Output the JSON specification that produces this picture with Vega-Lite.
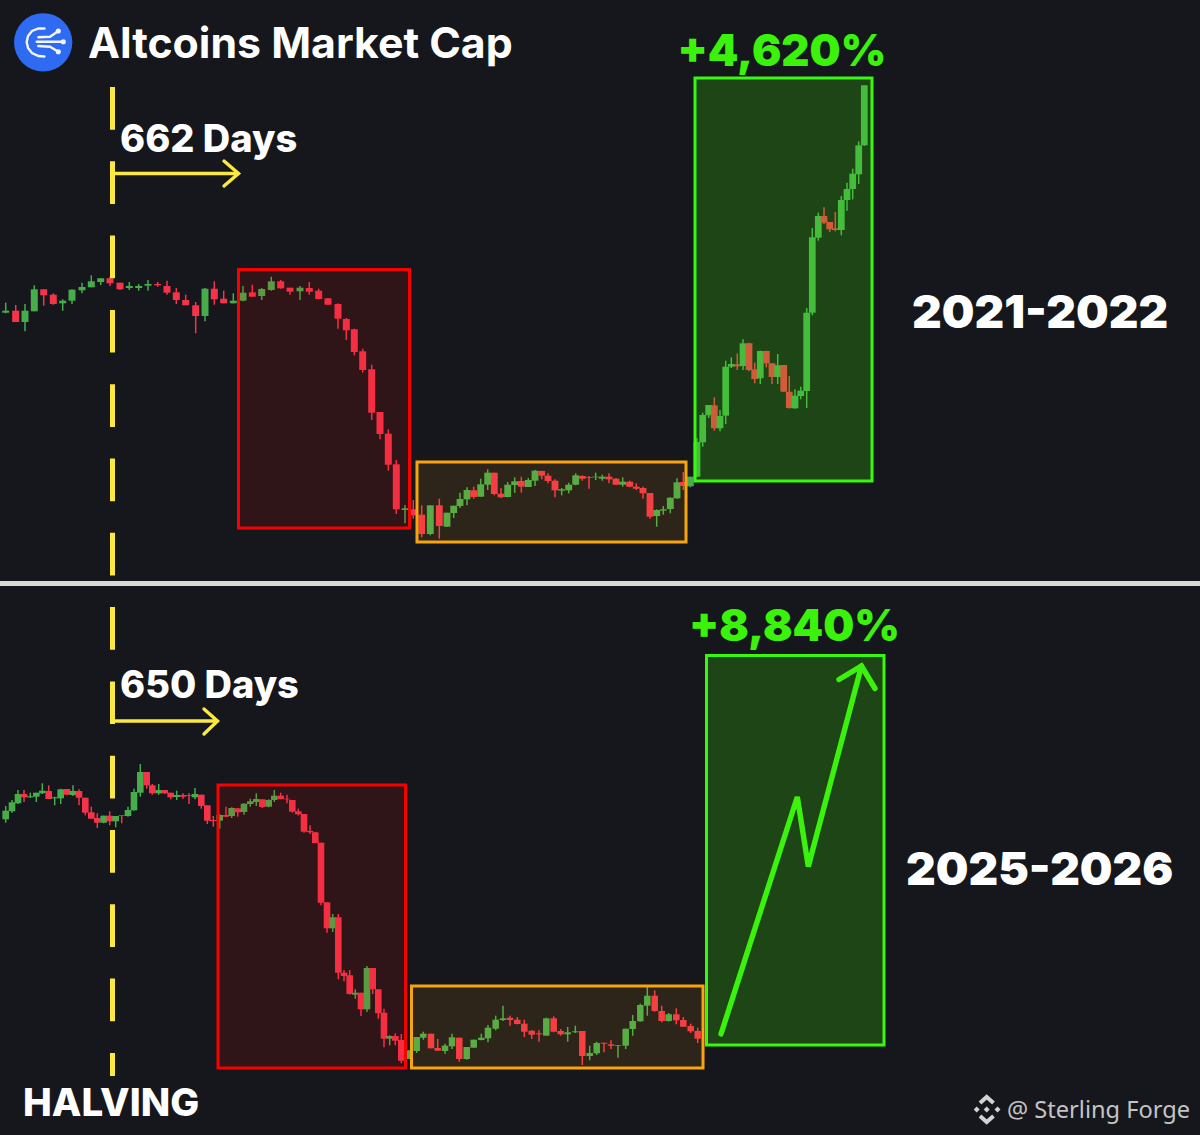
{"$schema":"https://vega.github.io/schema/vega-lite/v6.json","width":1200,"height":1135,"autosize":{"type":"none"},"padding":0,"background":"#16171c","config":{"view":{"stroke":null}},
"datasets":{"candles":[
{"seg":"A","x":5.7,"top":310.7,"bot":312.7,"hi":302.7,"lo":313.3,"dir":"up"},
{"seg":"A","x":15.7,"top":310.7,"bot":322,"hi":305,"lo":322,"dir":"down"},
{"seg":"A","x":25,"top":310.7,"bot":322,"hi":304,"lo":331.3,"dir":"up"},
{"seg":"A","x":34.3,"top":289.3,"bot":311.3,"hi":285.3,"lo":311.3,"dir":"up"},
{"seg":"A","x":43.7,"top":289.3,"bot":295.3,"hi":289.3,"lo":305.7,"dir":"down"},
{"seg":"A","x":53.3,"top":294.7,"bot":304,"hi":293.3,"lo":304.7,"dir":"down"},
{"seg":"A","x":62.7,"top":300.7,"bot":303.3,"hi":299.3,"lo":310.7,"dir":"up"},
{"seg":"A","x":72,"top":289.7,"bot":300.7,"hi":289.3,"lo":304,"dir":"up"},
{"seg":"A","x":82,"top":287,"bot":290.3,"hi":282.7,"lo":293.3,"dir":"up"},
{"seg":"A","x":91.3,"top":281.3,"bot":287.3,"hi":275.3,"lo":287.3,"dir":"up"},
{"seg":"A","x":100.7,"top":278.3,"bot":282,"hi":278.3,"lo":285,"dir":"up"},
{"seg":"A","x":110,"top":278.3,"bot":283.3,"hi":276.7,"lo":286,"dir":"down"},
{"seg":"A","x":120,"top":282.7,"bot":289.3,"hi":282.7,"lo":290,"dir":"down"},
{"seg":"A","x":129.3,"top":286,"bot":288,"hi":282,"lo":290,"dir":"up"},
{"seg":"A","x":138.7,"top":286,"bot":288,"hi":284,"lo":290.7,"dir":"up"},
{"seg":"A","x":148,"top":284,"bot":285.7,"hi":280,"lo":290.7,"dir":"up"},
{"seg":"A","x":157.7,"top":284,"bot":285.3,"hi":282,"lo":286.7,"dir":"down"},
{"seg":"A","x":167,"top":286,"bot":292.7,"hi":280.7,"lo":294.7,"dir":"down"},
{"seg":"A","x":176.3,"top":292.3,"bot":300,"hi":288,"lo":304,"dir":"down"},
{"seg":"A","x":185.7,"top":300,"bot":305.3,"hi":294.7,"lo":305.3,"dir":"down"},
{"seg":"A","x":195.7,"top":305.3,"bot":316,"hi":302,"lo":333.3,"dir":"down"},
{"seg":"A","x":205,"top":288.7,"bot":316,"hi":288,"lo":321.3,"dir":"up"},
{"seg":"A","x":214.3,"top":288.7,"bot":299.3,"hi":281.3,"lo":304.7,"dir":"down"},
{"seg":"A","x":223.7,"top":298.7,"bot":303.3,"hi":290.7,"lo":303.3,"dir":"down"},
{"seg":"A","x":233.3,"top":300.7,"bot":303.3,"hi":293.3,"lo":303.3,"dir":"up"},
{"seg":"A","x":243,"top":292.7,"bot":300.7,"hi":286,"lo":301.3,"dir":"up"},
{"seg":"A","x":252.3,"top":292.3,"bot":296.7,"hi":284.7,"lo":296.7,"dir":"down"},
{"seg":"A","x":261.7,"top":289,"bot":296,"hi":288,"lo":300,"dir":"up"},
{"seg":"A","x":271.3,"top":281.3,"bot":290,"hi":276.7,"lo":290.7,"dir":"up"},
{"seg":"A","x":280.7,"top":281.3,"bot":288.3,"hi":280,"lo":288.7,"dir":"down"},
{"seg":"A","x":290,"top":287.7,"bot":291.7,"hi":287.7,"lo":294.7,"dir":"down"},
{"seg":"A","x":300,"top":287.7,"bot":291.3,"hi":286,"lo":300,"dir":"up"},
{"seg":"A","x":309.3,"top":288,"bot":291.7,"hi":282,"lo":294.7,"dir":"down"},
{"seg":"A","x":318.7,"top":290.7,"bot":299,"hi":288.7,"lo":299.3,"dir":"down"},
{"seg":"A","x":328,"top":298.3,"bot":304.7,"hi":298,"lo":304.7,"dir":"down"},
{"seg":"A","x":338,"top":304,"bot":318.7,"hi":303.3,"lo":328.7,"dir":"down"},
{"seg":"A","x":346.3,"top":319,"bot":330.3,"hi":318,"lo":340,"dir":"down"},
{"seg":"A","x":354.3,"top":329.3,"bot":352,"hi":328.7,"lo":355.3,"dir":"down"},
{"seg":"A","x":362.7,"top":351.3,"bot":370,"hi":348.7,"lo":372.7,"dir":"down"},
{"seg":"A","x":371.7,"top":369.3,"bot":412.7,"hi":364.7,"lo":420,"dir":"down"},
{"seg":"A","x":380,"top":412,"bot":434,"hi":412,"lo":439.3,"dir":"down"},
{"seg":"A","x":388.3,"top":433.7,"bot":464.7,"hi":429.3,"lo":470.7,"dir":"down"},
{"seg":"A","x":396.3,"top":464.3,"bot":509.3,"hi":460,"lo":514,"dir":"down"},
{"seg":"B","x":405,"top":508.3,"bot":510,"hi":505,"lo":523.3,"dir":"up"},
{"seg":"B","x":413.3,"top":509.3,"bot":515.3,"hi":500,"lo":518.7,"dir":"down"},
{"seg":"B","x":421.7,"top":514.7,"bot":534,"hi":505.3,"lo":537.3,"dir":"down"},
{"seg":"B","x":430.3,"top":505.3,"bot":534,"hi":505.3,"lo":535.3,"dir":"up"},
{"seg":"B","x":439.3,"top":505.3,"bot":526,"hi":498.7,"lo":538.7,"dir":"down"},
{"seg":"B","x":447,"top":512.7,"bot":526.7,"hi":512.7,"lo":526.7,"dir":"up"},
{"seg":"B","x":453.7,"top":505.7,"bot":513,"hi":505.7,"lo":518,"dir":"up"},
{"seg":"B","x":460,"top":499,"bot":506,"hi":492.7,"lo":508,"dir":"up"},
{"seg":"B","x":467,"top":490,"bot":499.3,"hi":487.3,"lo":505.3,"dir":"up"},
{"seg":"B","x":473.7,"top":490.3,"bot":497,"hi":486.7,"lo":498.7,"dir":"down"},
{"seg":"B","x":480.7,"top":484.3,"bot":496.7,"hi":478.7,"lo":496.7,"dir":"up"},
{"seg":"B","x":487.7,"top":472.7,"bot":484.7,"hi":469.3,"lo":490,"dir":"up"},
{"seg":"B","x":494.3,"top":472.7,"bot":494,"hi":472.7,"lo":495.3,"dir":"down"},
{"seg":"B","x":501,"top":493.7,"bot":497.3,"hi":488,"lo":498,"dir":"down"},
{"seg":"B","x":507.7,"top":484.7,"bot":497,"hi":482,"lo":497.3,"dir":"up"},
{"seg":"B","x":514.7,"top":481.3,"bot":485,"hi":477.3,"lo":492.7,"dir":"up"},
{"seg":"B","x":521.3,"top":481,"bot":486.7,"hi":476.7,"lo":492.7,"dir":"down"},
{"seg":"B","x":528.3,"top":480,"bot":487,"hi":478,"lo":487,"dir":"up"},
{"seg":"B","x":535,"top":470.7,"bot":480.7,"hi":470,"lo":486,"dir":"up"},
{"seg":"B","x":541.7,"top":471,"bot":475.7,"hi":470.7,"lo":479.3,"dir":"down"},
{"seg":"B","x":548,"top":475.7,"bot":481,"hi":473.3,"lo":483.3,"dir":"down"},
{"seg":"B","x":555,"top":480.7,"bot":490.3,"hi":479.3,"lo":497.3,"dir":"down"},
{"seg":"B","x":561.7,"top":489.3,"bot":490.7,"hi":488,"lo":495.3,"dir":"up"},
{"seg":"B","x":568.7,"top":484.7,"bot":490.3,"hi":482.7,"lo":493.3,"dir":"up"},
{"seg":"B","x":575.7,"top":475.3,"bot":484.7,"hi":473.3,"lo":485.3,"dir":"up"},
{"seg":"B","x":582.3,"top":476,"bot":478.7,"hi":475.3,"lo":480.7,"dir":"down"},
{"seg":"B","x":589,"top":477.3,"bot":478,"hi":476,"lo":488.7,"dir":"down"},
{"seg":"B","x":595.7,"top":476.7,"bot":477.3,"hi":472.7,"lo":480,"dir":"up"},
{"seg":"B","x":602.3,"top":476.7,"bot":478.7,"hi":474.7,"lo":480.7,"dir":"up"},
{"seg":"B","x":609,"top":476.7,"bot":479.3,"hi":473.3,"lo":483.3,"dir":"down"},
{"seg":"B","x":616,"top":478.7,"bot":484.7,"hi":478,"lo":484.7,"dir":"down"},
{"seg":"B","x":622.7,"top":481.7,"bot":484.7,"hi":477.3,"lo":486.7,"dir":"up"},
{"seg":"B","x":629.7,"top":481.7,"bot":486.7,"hi":480.7,"lo":487.3,"dir":"down"},
{"seg":"B","x":636.3,"top":486.7,"bot":488.7,"hi":483.3,"lo":490,"dir":"down"},
{"seg":"B","x":643,"top":488,"bot":493.3,"hi":486.7,"lo":498.7,"dir":"down"},
{"seg":"B","x":650,"top":493,"bot":516.7,"hi":493,"lo":518.7,"dir":"down"},
{"seg":"B","x":656.7,"top":510,"bot":516,"hi":509.3,"lo":526.7,"dir":"up"},
{"seg":"B","x":663.3,"top":509.3,"bot":510.7,"hi":506,"lo":514.7,"dir":"up"},
{"seg":"B","x":670.3,"top":497.7,"bot":509,"hi":497.3,"lo":513.3,"dir":"up"},
{"seg":"B","x":677,"top":482.3,"bot":498.3,"hi":478.3,"lo":498.7,"dir":"up"},
{"seg":"B","x":683.3,"top":482,"bot":486,"hi":472,"lo":490,"dir":"down"},
{"seg":"B","x":690.3,"top":476.7,"bot":486.3,"hi":476.7,"lo":487.3,"dir":"up"},
{"seg":"C","x":697,"top":442,"bot":476.7,"hi":438.3,"lo":477.3,"dir":"up"},
{"seg":"C","x":702.7,"top":415,"bot":442.3,"hi":412.7,"lo":446.7,"dir":"up"},
{"seg":"C","x":708.7,"top":405,"bot":415.3,"hi":405,"lo":418,"dir":"up"},
{"seg":"C","x":714.3,"top":405.3,"bot":428.3,"hi":397.3,"lo":430.7,"dir":"down"},
{"seg":"C","x":720,"top":416,"bot":428.3,"hi":410,"lo":431.3,"dir":"up"},
{"seg":"C","x":725.7,"top":366.7,"bot":415.7,"hi":360.7,"lo":424,"dir":"up"},
{"seg":"C","x":731.3,"top":364,"bot":366.7,"hi":357.3,"lo":368,"dir":"up"},
{"seg":"C","x":737.3,"top":364.3,"bot":366.3,"hi":353.3,"lo":370,"dir":"down"},
{"seg":"C","x":743,"top":343.3,"bot":366,"hi":339.3,"lo":370,"dir":"up"},
{"seg":"C","x":749,"top":343.3,"bot":370,"hi":342.7,"lo":371.3,"dir":"down"},
{"seg":"C","x":754.7,"top":369.3,"bot":379,"hi":362.7,"lo":383.3,"dir":"down"},
{"seg":"C","x":760.3,"top":351,"bot":378.3,"hi":350.7,"lo":384,"dir":"up"},
{"seg":"C","x":766.3,"top":351,"bot":363.3,"hi":350.7,"lo":367.3,"dir":"down"},
{"seg":"C","x":772,"top":363.3,"bot":377,"hi":363.3,"lo":384,"dir":"down"},
{"seg":"C","x":777.7,"top":365.3,"bot":377,"hi":354,"lo":384,"dir":"up"},
{"seg":"C","x":783.7,"top":365,"bot":391.7,"hi":365,"lo":392,"dir":"down"},
{"seg":"C","x":789.3,"top":391.7,"bot":408,"hi":376,"lo":408.7,"dir":"down"},
{"seg":"C","x":795,"top":395.7,"bot":408.3,"hi":389.3,"lo":408.7,"dir":"up"},
{"seg":"C","x":800.7,"top":390.7,"bot":396,"hi":386.7,"lo":399.3,"dir":"up"},
{"seg":"C","x":806.7,"top":312.7,"bot":391,"hi":308,"lo":408,"dir":"up"},
{"seg":"C","x":812.3,"top":237.3,"bot":312.7,"hi":228,"lo":315.3,"dir":"up"},
{"seg":"C","x":818.3,"top":216,"bot":237.7,"hi":212.7,"lo":240.7,"dir":"up"},
{"seg":"C","x":824,"top":216,"bot":222.7,"hi":207.3,"lo":224,"dir":"down"},
{"seg":"C","x":829.7,"top":222,"bot":229.3,"hi":222,"lo":232,"dir":"down"},
{"seg":"C","x":835.3,"top":228.3,"bot":230,"hi":212,"lo":231.3,"dir":"down"},
{"seg":"C","x":841.3,"top":200,"bot":230,"hi":196,"lo":235.3,"dir":"up"},
{"seg":"C","x":847,"top":189,"bot":200,"hi":182.7,"lo":210.7,"dir":"up"},
{"seg":"C","x":852.7,"top":173.7,"bot":189,"hi":168.7,"lo":199.3,"dir":"up"},
{"seg":"C","x":858.7,"top":145.3,"bot":174.3,"hi":141.3,"lo":184,"dir":"up"},
{"seg":"C","x":864.3,"top":85.3,"bot":145.3,"hi":85.3,"lo":146,"dir":"up"},
{"seg":"D","x":5.7,"top":810.7,"bot":819.3,"hi":806,"lo":822.7,"dir":"up"},
{"seg":"D","x":12,"top":802.3,"bot":811.3,"hi":800,"lo":812.7,"dir":"up"},
{"seg":"D","x":18,"top":794,"bot":803.3,"hi":790,"lo":804,"dir":"up"},
{"seg":"D","x":24,"top":794,"bot":797.3,"hi":790,"lo":802,"dir":"down"},
{"seg":"D","x":30.3,"top":796.3,"bot":797.3,"hi":792.7,"lo":798,"dir":"up"},
{"seg":"D","x":36.3,"top":792.7,"bot":796.7,"hi":792.7,"lo":802,"dir":"up"},
{"seg":"D","x":42.3,"top":790.7,"bot":793.3,"hi":783.3,"lo":794,"dir":"up"},
{"seg":"D","x":48.7,"top":791,"bot":799,"hi":785.3,"lo":799,"dir":"down"},
{"seg":"D","x":54.7,"top":797.3,"bot":798.3,"hi":796.7,"lo":805.3,"dir":"up"},
{"seg":"D","x":60.7,"top":789.3,"bot":798.3,"hi":788.7,"lo":804,"dir":"up"},
{"seg":"D","x":67,"top":789,"bot":794.7,"hi":789,"lo":795.3,"dir":"down"},
{"seg":"D","x":73,"top":791,"bot":795,"hi":785.3,"lo":796,"dir":"up"},
{"seg":"D","x":79,"top":791,"bot":797.7,"hi":789.3,"lo":805.3,"dir":"down"},
{"seg":"D","x":85.3,"top":797.7,"bot":812.7,"hi":797.7,"lo":815.3,"dir":"down"},
{"seg":"D","x":91.3,"top":812.3,"bot":818.7,"hi":806.7,"lo":818.7,"dir":"down"},
{"seg":"D","x":97.3,"top":818,"bot":822.7,"hi":813.3,"lo":828,"dir":"down"},
{"seg":"D","x":103.7,"top":815.7,"bot":822.7,"hi":815.7,"lo":823.3,"dir":"up"},
{"seg":"D","x":109.7,"top":815.7,"bot":821.3,"hi":811.3,"lo":825.3,"dir":"down"},
{"seg":"D","x":115.7,"top":816,"bot":821.3,"hi":816,"lo":827.3,"dir":"up"},
{"seg":"D","x":121.7,"top":815.3,"bot":816,"hi":815.3,"lo":823.3,"dir":"down"},
{"seg":"D","x":128,"top":810,"bot":816,"hi":806.7,"lo":816.7,"dir":"up"},
{"seg":"D","x":134,"top":792,"bot":810.3,"hi":788.7,"lo":810.7,"dir":"up"},
{"seg":"D","x":140.3,"top":772,"bot":792.7,"hi":764,"lo":796.7,"dir":"up"},
{"seg":"D","x":146.7,"top":772,"bot":785.3,"hi":772,"lo":788.7,"dir":"down"},
{"seg":"D","x":152.3,"top":785.3,"bot":793.3,"hi":784,"lo":794.7,"dir":"down"},
{"seg":"D","x":158.7,"top":790,"bot":793.3,"hi":784,"lo":794.7,"dir":"up"},
{"seg":"D","x":164.7,"top":790,"bot":793.3,"hi":790,"lo":794,"dir":"down"},
{"seg":"D","x":170.7,"top":792.7,"bot":797.3,"hi":792.7,"lo":799.3,"dir":"down"},
{"seg":"D","x":176.7,"top":795,"bot":797,"hi":790.7,"lo":800,"dir":"up"},
{"seg":"D","x":183,"top":795,"bot":796.7,"hi":793.3,"lo":798.7,"dir":"down"},
{"seg":"D","x":189,"top":795.3,"bot":796,"hi":793.3,"lo":804,"dir":"down"},
{"seg":"D","x":195,"top":794,"bot":797.3,"hi":788,"lo":799.3,"dir":"up"},
{"seg":"D","x":201.3,"top":794.7,"bot":806,"hi":794.7,"lo":808.7,"dir":"down"},
{"seg":"D","x":207.3,"top":805.3,"bot":820.7,"hi":805.3,"lo":824,"dir":"down"},
{"seg":"D","x":213.3,"top":820,"bot":821,"hi":816,"lo":826.7,"dir":"down"},
{"seg":"D","x":219.7,"top":815,"bot":820.7,"hi":814,"lo":828.7,"dir":"up"},
{"seg":"D","x":226,"top":815,"bot":816.7,"hi":806.7,"lo":817.3,"dir":"down"},
{"seg":"D","x":231.7,"top":808,"bot":816,"hi":807.3,"lo":818,"dir":"up"},
{"seg":"D","x":237.7,"top":808.3,"bot":812.3,"hi":808,"lo":816.7,"dir":"down"},
{"seg":"D","x":244,"top":803.7,"bot":812,"hi":803.3,"lo":814.7,"dir":"up"},
{"seg":"D","x":250.3,"top":801.3,"bot":804,"hi":798.7,"lo":806.7,"dir":"up"},
{"seg":"D","x":256.3,"top":799,"bot":802,"hi":793.3,"lo":806,"dir":"up"},
{"seg":"D","x":262.3,"top":799.3,"bot":807,"hi":799.3,"lo":808,"dir":"down"},
{"seg":"D","x":268.7,"top":800,"bot":806.7,"hi":799.3,"lo":807.3,"dir":"up"},
{"seg":"D","x":274.3,"top":795.7,"bot":800,"hi":790,"lo":802,"dir":"up"},
{"seg":"D","x":280.7,"top":795.7,"bot":799,"hi":792.7,"lo":799.3,"dir":"down"},
{"seg":"D","x":287,"top":798.7,"bot":799.3,"hi":794.7,"lo":803.3,"dir":"down"},
{"seg":"D","x":292.3,"top":800,"bot":811.7,"hi":800,"lo":812.7,"dir":"down"},
{"seg":"D","x":298.3,"top":811.3,"bot":814.3,"hi":808.7,"lo":815.3,"dir":"down"},
{"seg":"D","x":304,"top":814,"bot":831.7,"hi":814,"lo":832.7,"dir":"down"},
{"seg":"D","x":310,"top":831,"bot":832.3,"hi":825.3,"lo":834,"dir":"down"},
{"seg":"D","x":315.3,"top":832.3,"bot":843,"hi":832,"lo":843.3,"dir":"down"},
{"seg":"D","x":321,"top":842.7,"bot":902.7,"hi":842.7,"lo":905.3,"dir":"down"},
{"seg":"D","x":327,"top":902.3,"bot":928.3,"hi":902.3,"lo":932.7,"dir":"down"},
{"seg":"D","x":332.7,"top":917.3,"bot":928.3,"hi":914,"lo":932,"dir":"up"},
{"seg":"D","x":338.3,"top":917.3,"bot":972.7,"hi":914,"lo":979.3,"dir":"down"},
{"seg":"D","x":344,"top":972.7,"bot":976,"hi":970,"lo":981.3,"dir":"down"},
{"seg":"D","x":349.7,"top":975.3,"bot":994,"hi":970,"lo":994.7,"dir":"down"},
{"seg":"D","x":355.3,"top":992.7,"bot":994.7,"hi":989.3,"lo":998.7,"dir":"up"},
{"seg":"D","x":361,"top":992.7,"bot":1009.3,"hi":992.7,"lo":1016,"dir":"down"},
{"seg":"D","x":367,"top":968,"bot":1009.3,"hi":966,"lo":1012,"dir":"up"},
{"seg":"D","x":372.7,"top":968,"bot":989.3,"hi":968,"lo":994,"dir":"down"},
{"seg":"D","x":378.3,"top":989.3,"bot":1013.3,"hi":989.3,"lo":1018.7,"dir":"down"},
{"seg":"D","x":384,"top":1012.7,"bot":1038.7,"hi":1008.7,"lo":1047.3,"dir":"down"},
{"seg":"D","x":389.7,"top":1036,"bot":1038.7,"hi":1035.3,"lo":1045.3,"dir":"up"},
{"seg":"D","x":395.3,"top":1036,"bot":1040.7,"hi":1033.3,"lo":1045.3,"dir":"down"},
{"seg":"D","x":401.3,"top":1040,"bot":1060.7,"hi":1034,"lo":1063.3,"dir":"down"},
{"seg":"E","x":408.7,"top":1050.3,"bot":1059,"hi":1050.3,"lo":1059,"dir":"up"},
{"seg":"E","x":416.7,"top":1037,"bot":1051,"hi":1037,"lo":1053,"dir":"up"},
{"seg":"E","x":423.3,"top":1033.7,"bot":1037.7,"hi":1031.7,"lo":1039.7,"dir":"up"},
{"seg":"E","x":431,"top":1033.7,"bot":1048.3,"hi":1033.7,"lo":1048.3,"dir":"down"},
{"seg":"E","x":437.7,"top":1048,"bot":1050.7,"hi":1039,"lo":1051,"dir":"down"},
{"seg":"E","x":445,"top":1045.7,"bot":1051,"hi":1043.7,"lo":1053.7,"dir":"up"},
{"seg":"E","x":452,"top":1037.3,"bot":1046.3,"hi":1033.7,"lo":1049,"dir":"up"},
{"seg":"E","x":459.3,"top":1037.7,"bot":1059,"hi":1037.7,"lo":1061.7,"dir":"down"},
{"seg":"E","x":466.7,"top":1047,"bot":1059,"hi":1047,"lo":1059.7,"dir":"up"},
{"seg":"E","x":473.7,"top":1039.7,"bot":1047.7,"hi":1039.7,"lo":1047.7,"dir":"up"},
{"seg":"E","x":481.3,"top":1037.7,"bot":1040,"hi":1033.7,"lo":1040.3,"dir":"up"},
{"seg":"E","x":488,"top":1027.7,"bot":1038.3,"hi":1025,"lo":1042.3,"dir":"up"},
{"seg":"E","x":495.7,"top":1019.7,"bot":1028.7,"hi":1015.7,"lo":1030.3,"dir":"up"},
{"seg":"E","x":503,"top":1018.3,"bot":1020,"hi":1005.7,"lo":1021,"dir":"up"},
{"seg":"E","x":510,"top":1017.7,"bot":1020,"hi":1015.7,"lo":1025.7,"dir":"down"},
{"seg":"E","x":517.3,"top":1019.7,"bot":1024,"hi":1017,"lo":1024.3,"dir":"down"},
{"seg":"E","x":524.3,"top":1023.7,"bot":1031.7,"hi":1019.7,"lo":1037,"dir":"down"},
{"seg":"E","x":531.7,"top":1030.7,"bot":1034.7,"hi":1030.3,"lo":1039,"dir":"down"},
{"seg":"E","x":539,"top":1033.3,"bot":1034.3,"hi":1030.3,"lo":1041.7,"dir":"down"},
{"seg":"E","x":546.3,"top":1018.3,"bot":1035.7,"hi":1017.7,"lo":1035.7,"dir":"up"},
{"seg":"E","x":553.7,"top":1018.3,"bot":1031.7,"hi":1016.3,"lo":1032.3,"dir":"down"},
{"seg":"E","x":560.7,"top":1031,"bot":1034.3,"hi":1029,"lo":1035.7,"dir":"down"},
{"seg":"E","x":567.7,"top":1032.3,"bot":1034.3,"hi":1027,"lo":1041.7,"dir":"up"},
{"seg":"E","x":575.3,"top":1031.3,"bot":1032.3,"hi":1025.7,"lo":1033,"dir":"up"},
{"seg":"E","x":582.3,"top":1031,"bot":1056,"hi":1031,"lo":1065,"dir":"down"},
{"seg":"E","x":589.7,"top":1053,"bot":1056,"hi":1045.7,"lo":1060.3,"dir":"up"},
{"seg":"E","x":596.7,"top":1043,"bot":1053.3,"hi":1041.7,"lo":1055,"dir":"up"},
{"seg":"E","x":604,"top":1042.7,"bot":1043.7,"hi":1042.7,"lo":1052.3,"dir":"down"},
{"seg":"E","x":611,"top":1044.3,"bot":1045.7,"hi":1040.3,"lo":1049,"dir":"down"},
{"seg":"E","x":618,"top":1045,"bot":1045.7,"hi":1045,"lo":1057.7,"dir":"up"},
{"seg":"E","x":625.7,"top":1028.7,"bot":1045.7,"hi":1028.7,"lo":1049,"dir":"up"},
{"seg":"E","x":632.7,"top":1021,"bot":1029,"hi":1015,"lo":1035.7,"dir":"up"},
{"seg":"E","x":640.3,"top":1005,"bot":1021.3,"hi":1003.7,"lo":1021.7,"dir":"up"},
{"seg":"E","x":647.3,"top":995.7,"bot":1005.7,"hi":987,"lo":1015.7,"dir":"up"},
{"seg":"E","x":654.7,"top":995.7,"bot":1011,"hi":990.3,"lo":1011.7,"dir":"down"},
{"seg":"E","x":661.7,"top":1011,"bot":1021,"hi":1005.7,"lo":1022.3,"dir":"down"},
{"seg":"E","x":668.7,"top":1014.3,"bot":1021,"hi":1013,"lo":1021.7,"dir":"up"},
{"seg":"E","x":676.3,"top":1014.3,"bot":1020.3,"hi":1008.3,"lo":1024.3,"dir":"down"},
{"seg":"E","x":683.3,"top":1020,"bot":1026.7,"hi":1017,"lo":1027,"dir":"down"},
{"seg":"E","x":690.7,"top":1026,"bot":1031.3,"hi":1023.7,"lo":1033,"dir":"down"},
{"seg":"E","x":697.7,"top":1031,"bot":1038.7,"hi":1027.7,"lo":1043,"dir":"down"}
]},
"layer":[
{"data":{"name":"candles"},"mark":{"type":"rule","strokeWidth":1.5},"encoding":{"x":{"field":"x","type":"quantitative","scale":{"domain":[0,1200],"nice":false,"zero":false},"axis":null},"y":{"field":"hi","type":"quantitative","scale":{"domain":[0,1135],"reverse":true,"nice":false,"zero":false},"axis":null},"y2":{"field":"lo"},"color":{"field":"dir","type":"nominal","scale":{"domain":["up","down"],"range":["#45ad4b","#f5344a"]},"legend":null}}},
{"data":{"name":"candles"},"mark":{"type":"rule"},"encoding":{"x":{"field":"x","type":"quantitative"},"y":{"field":"top","type":"quantitative"},"y2":{"field":"bot"},"size":{"field":"seg","type":"nominal","scale":{"domain":["A","B","C","D","E"],"range":[7,6.5,5,5.5,6.5]},"legend":null},"color":{"field":"dir","type":"nominal","legend":null}}},
{"data":{"values":[{"box":"drop","x0":238.5,"x1":409.5,"y0":269.5,"y1":528},{"box":"range","x0":417,"x1":686,"y0":462,"y1":542},{"box":"pump","x0":695,"x1":872,"y0":78,"y1":481},{"box":"drop","x0":218,"x1":405.5,"y0":785,"y1":1068},{"box":"range","x0":411.5,"x1":703,"y0":986,"y1":1068},{"box":"pump","x0":706.5,"x1":884,"y0":655.5,"y1":1045}]},"mark":{"type":"rect","strokeWidth":3},"encoding":{"x":{"field":"x0","type":"quantitative"},"x2":{"field":"x1"},"y":{"field":"y0","type":"quantitative"},"y2":{"field":"y1"},"fill":{"field":"box","type":"nominal","scale":{"domain":["drop","range","pump"],"range":["rgba(255,0,0,0.11)","rgba(255,162,0,0.1)","rgba(63,255,0,0.2)"]},"legend":null},"stroke":{"field":"box","type":"nominal","scale":{"domain":["drop","range","pump"],"range":["#f60000","#f9a40c","#38f80e"]},"legend":null}}},
{"data":{"values":[{"x":0,"x1":1200,"y":583.5}]},"mark":{"type":"rule","color":"#d9d9d9","strokeWidth":5},"encoding":{"x":{"field":"x","type":"quantitative"},"x2":{"field":"x1"},"y":{"field":"y","type":"quantitative"}}},
{"data":{"values":[{"x":112.5,"y0":87,"y1":1076}]},"mark":{"type":"rule","color":"#fbe941","strokeWidth":5,"strokeDash":[42.7,31.6]},"encoding":{"x":{"field":"x","type":"quantitative"},"y":{"field":"y0","type":"quantitative"},"y2":{"field":"y1"}}},
{"data":{"values":[{"id":"a","n":1,"x":112,"y":173.5},{"id":"a","n":2,"x":238,"y":173.5},{"id":"b","n":1,"x":224,"y":161},{"id":"b","n":2,"x":238.5,"y":173.5},{"id":"b","n":3,"x":224,"y":186},{"id":"c","n":1,"x":112,"y":721},{"id":"c","n":2,"x":217,"y":721},{"id":"d","n":1,"x":204,"y":709},{"id":"d","n":2,"x":217.5,"y":721},{"id":"d","n":3,"x":204,"y":734}]},"mark":{"type":"line","color":"#fbe941","strokeWidth":3.4,"strokeCap":"round","strokeJoin":"miter"},"encoding":{"x":{"field":"x","type":"quantitative"},"y":{"field":"y","type":"quantitative"},"detail":{"field":"id"},"order":{"field":"n"}}},
{"data":{"values":[{"id":"a","n":1,"x":721,"y":1034},{"id":"a","n":2,"x":797.3,"y":797},{"id":"a","n":3,"x":808.3,"y":866.5},{"id":"a","n":4,"x":861.5,"y":666},{"id":"b","n":1,"x":839,"y":679.5},{"id":"b","n":2,"x":861.5,"y":666},{"id":"b","n":3,"x":875,"y":688.5}]},"mark":{"type":"line","color":"#3bf20d","strokeWidth":5.4,"strokeCap":"round","strokeJoin":"miter"},"encoding":{"x":{"field":"x","type":"quantitative"},"y":{"field":"y","type":"quantitative"},"detail":{"field":"id"},"order":{"field":"n"}}},
{"data":{"values":[{"x":43.2,"y":42.3}]},"mark":{"type":"circle","color":"#2f6bf2","opacity":1,"size":3400},"encoding":{"x":{"field":"x","type":"quantitative"},"y":{"field":"y","type":"quantitative"}}},
{"data":{"values":[{"id":"arc","n":1,"x":44.5,"y":28.5},{"id":"arc","n":2,"x":38.5,"y":28.5},{"id":"arc","n":3,"x":32,"y":31},{"id":"arc","n":4,"x":28,"y":36},{"id":"arc","n":5,"x":26.7,"y":42},{"id":"arc","n":6,"x":28,"y":48},{"id":"arc","n":7,"x":32,"y":53},{"id":"arc","n":8,"x":38.5,"y":56},{"id":"arc","n":9,"x":44.5,"y":56.5},{"id":"mid","n":1,"x":36.7,"y":41.7},{"id":"mid","n":2,"x":63.3,"y":41.7},{"id":"up","n":1,"x":38.3,"y":37.3},{"id":"up","n":2,"x":50,"y":36.7},{"id":"up","n":3,"x":58.3,"y":31},{"id":"lo","n":1,"x":38.3,"y":46},{"id":"lo","n":2,"x":50,"y":46.7},{"id":"lo","n":3,"x":58.3,"y":51.7}]},"mark":{"type":"line","color":"#f2f5ff","strokeWidth":2.4,"strokeCap":"round"},"encoding":{"x":{"field":"x","type":"quantitative"},"y":{"field":"y","type":"quantitative"},"detail":{"field":"id"},"order":{"field":"n"}}},
{"data":{"values":[{"x":63.3,"y":41.7},{"x":58.3,"y":31},{"x":58.3,"y":51.7}]},"mark":{"type":"circle","color":"#f2f5ff","opacity":1,"size":26},"encoding":{"x":{"field":"x","type":"quantitative"},"y":{"field":"y","type":"quantitative"}}},
{"data":{"values":[{"x":88,"y":58,"t":"Altcoins Market Cap"}]},"mark":{"type":"text","font":"Inter","fontWeight":700,"fontSize":42.8,"align":"left","baseline":"alphabetic","color":"#ffffff"},"encoding":{"x":{"field":"x","type":"quantitative"},"y":{"field":"y","type":"quantitative"},"text":{"field":"t"}}},
{"data":{"values":[{"x":120,"y":152,"t":"662 Days"},{"x":120,"y":698,"t":"650 Days"}]},"mark":{"type":"text","font":"Inter","fontWeight":800,"fontSize":38,"align":"left","baseline":"alphabetic","color":"#ffffff"},"encoding":{"x":{"field":"x","type":"quantitative"},"y":{"field":"y","type":"quantitative"},"text":{"field":"t"}}},
{"data":{"values":[{"x":677.5,"y":66,"t":"+4,620%"},{"x":689,"y":641,"t":"+8,840%"}]},"mark":{"type":"text","font":"Inter","fontWeight":900,"fontSize":43.7,"align":"left","baseline":"alphabetic","color":"#3bf20d"},"encoding":{"x":{"field":"x","type":"quantitative"},"y":{"field":"y","type":"quantitative"},"text":{"field":"t"}}},
{"data":{"values":[{"x":912,"y":328,"t":"2021-2022"},{"x":906,"y":885,"t":"2025-2026"}]},"mark":{"type":"text","font":"Inter","fontWeight":900,"fontSize":46,"align":"left","baseline":"alphabetic","color":"#ffffff"},"encoding":{"x":{"field":"x","type":"quantitative"},"y":{"field":"y","type":"quantitative"},"text":{"field":"t"}}},
{"data":{"values":[{"x":23,"y":1116,"t":"HALVING"}]},"mark":{"type":"text","font":"Inter","fontWeight":800,"fontSize":38.5,"align":"left","baseline":"alphabetic","color":"#ffffff"},"encoding":{"x":{"field":"x","type":"quantitative"},"y":{"field":"y","type":"quantitative"},"text":{"field":"t"}}},
{"data":{"values":[{"id":"t","n":1,"x":980,"y":1103},{"id":"t","n":2,"x":986.7,"y":1097},{"id":"t","n":3,"x":993.5,"y":1103},{"id":"b","n":1,"x":980,"y":1116},{"id":"b","n":2,"x":986.7,"y":1122},{"id":"b","n":3,"x":993.5,"y":1116}]},"mark":{"type":"line","color":"#d2d2d2","strokeWidth":4},"encoding":{"x":{"field":"x","type":"quantitative"},"y":{"field":"y","type":"quantitative"},"detail":{"field":"id"},"order":{"field":"n"}}},
{"data":{"values":[{"x":976.7,"y":1109.5},{"x":986.7,"y":1109.5},{"x":997.5,"y":1109.5}]},"mark":{"type":"point","shape":"diamond","filled":true,"color":"#d2d2d2","opacity":1,"size":36},"encoding":{"x":{"field":"x","type":"quantitative"},"y":{"field":"y","type":"quantitative"}}},
{"data":{"values":[{"x":1007,"y":1118,"t":"@ Sterling Forge"}]},"mark":{"type":"text","font":"Noto Sans","fontSize":23.6,"align":"left","baseline":"alphabetic","color":"#c4c4c4"},"encoding":{"x":{"field":"x","type":"quantitative"},"y":{"field":"y","type":"quantitative"},"text":{"field":"t"}}}
]}
